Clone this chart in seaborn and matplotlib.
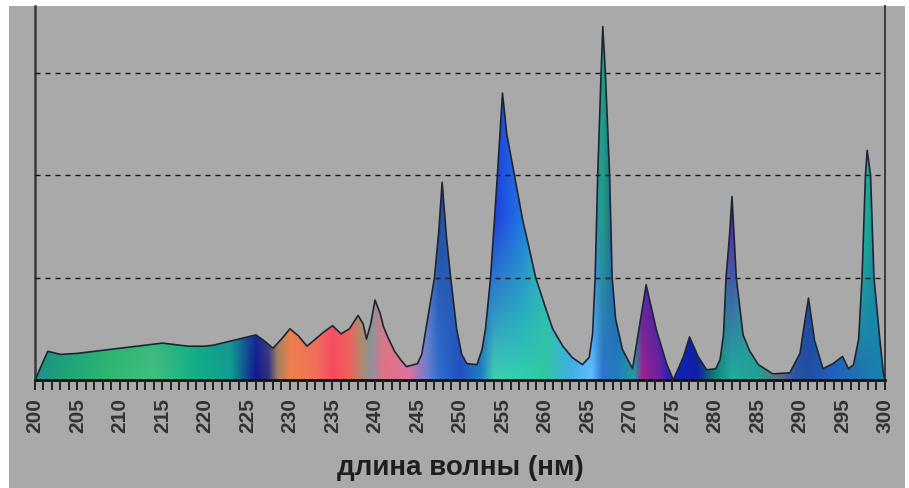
import matplotlib
matplotlib.use("Agg")
import matplotlib.pyplot as plt
import numpy as np
import pandas as pd
import seaborn as sns
from matplotlib.colors import to_rgb
from matplotlib.patches import Rectangle


# spectrum: wavelength (nm) and relative intensity
wavelength = [200, 201.5, 203, 205, 208, 210, 213, 215, 216, 218, 220, 221,
              223, 225, 226, 227, 228, 229, 230, 231, 232, 233, 234, 235,
              236, 237, 238, 238.6, 239, 239.5, 240, 240.6, 241, 241.5, 242.3,
              243, 243.7, 245, 245.5, 246.0, 246.5, 247.0, 247.5, 247.9, 248.4,
              248.9, 249.6, 250.2, 250.8, 252.0, 252.6, 253.0, 253.6, 254.4,
              255.0, 255.5, 256.4, 257.4, 258.1, 258.9, 260.0, 260.9, 262.1,
              263.2, 264.4, 265.2, 265.6, 265.9, 266.2, 266.6, 266.8, 267.1,
              267.6, 267.9, 268.3, 269.1, 270.3, 271.1, 271.9, 273.1, 274.3,
              275.1, 276.3, 277.0, 278.0, 279.0, 280.1, 280.6, 281.0, 281.3,
              281.7, 282.0, 282.5, 283.3, 284.1, 285.1, 286.8, 288.8, 290.0,
              290.6, 291.0, 291.7, 292.7, 293.9, 295.0, 295.7, 296.3, 296.9,
              297.3, 297.7, 297.9, 298.3, 298.7, 299.4, 299.8, 300]
intensity = [0.0, 0.28, 0.25, 0.26, 0.29, 0.31, 0.34, 0.36, 0.35, 0.33, 0.33, 0.34,
             0.38, 0.42, 0.44, 0.38, 0.31, 0.40, 0.50, 0.43, 0.33, 0.40, 0.47, 0.53,
             0.45, 0.50, 0.63, 0.55, 0.40, 0.55, 0.78, 0.65, 0.52, 0.42, 0.28,
             0.20, 0.13, 0.16, 0.25, 0.50, 0.75, 1.00, 1.45, 1.93, 1.40,
             1.00, 0.50, 0.25, 0.16, 0.15, 0.30, 0.50, 1.00, 2.00,
             2.80, 2.40, 2.00, 1.55, 1.30, 1.00, 0.72, 0.50, 0.33,
             0.22, 0.15, 0.22, 0.45, 1.00, 2.00, 3.00, 3.45, 3.00,
             2.00, 1.00, 0.60, 0.30, 0.11, 0.52, 0.93, 0.49, 0.16,
             0.0, 0.23, 0.42, 0.23, 0.10, 0.11, 0.20, 0.44, 1.00,
             1.40, 1.79, 1.00, 0.44, 0.28, 0.15, 0.06, 0.07, 0.26,
             0.59, 0.80, 0.39, 0.11, 0.16, 0.23, 0.11, 0.15, 0.40,
             1.00, 2.00, 2.24, 2.00, 1.00, 0.39, 0.07, 0.0]

x_ticks = list(range(200, 301, 5))
grid_levels = [1, 2, 3]
x_label = "длина волны (нм)"

# colour of the fill along the spectrum (bottom colour, top colour)
stop_wl = [200, 204, 209, 214, 219, 223, 226, 227.5, 228.5, 230, 233, 235, 237,
           238.5, 239.5, 241, 244, 246, 247.5, 250, 252.5, 254, 257, 260, 263,
           265.5, 266.8, 268.5, 270.5, 271.5, 273.5, 275, 278, 280, 282, 285,
           287.5, 289.5, 291, 294, 297, 299, 300]
stop_low = ["#1f8f8a", "#20a878", "#30b870", "#40c080", "#10b088", "#10a090",
            "#101890", "#303080", "#a08060", "#f08048", "#f07058", "#f84860",
            "#f06058", "#b08870", "#9090a0", "#e07080", "#e070a0", "#7080d0",
            "#3070d0", "#2050c0", "#2080c0", "#40d0b0", "#30d0b0", "#30c8a0",
            "#40b0e0", "#60c0ff", "#3070d0", "#2080c0", "#20a0a0", "#a02090",
            "#7020a0", "#1020c0", "#1020a0", "#108070", "#20b0a0", "#20a090",
            "#607080", "#3050a0", "#2050a0", "#2060c0", "#2070b0", "#1880b0",
            "#1880b0"]
stop_high = ["#1a7f8f", "#1a8a80", "#209a7a", "#28a070", "#1a9a80", "#2070a0",
             "#3050b0", "#707070", "#b08070", "#e07860", "#e87060", "#f06070",
             "#e07060", "#90a070", "#70a080", "#c09090", "#d080a0", "#6080c0",
             "#2050a0", "#3060b0", "#2060d0", "#2040e0", "#2070e0", "#30b0c0",
             "#40a0e0", "#3080e0", "#20a080", "#2050a0", "#305080", "#2030b0",
             "#1030a0", "#1020c0", "#1030b0", "#20a0a0", "#6020b0", "#30a0a0",
             "#707890", "#2060c0", "#2040a0", "#3070c0", "#20c090", "#1890a0",
             "#1890a0"]

BG = "#a9a9a9"
W, H = 909, 488

sns.set_theme(style="white")
plt.rcParams["font.family"] = ["Liberation Sans", "DejaVu Sans"]

fig = plt.figure(figsize=(W / 100, H / 100), dpi=100, facecolor="white")
fig.add_artist(Rectangle((9 / W, 0), (905 - 9) / W, (H - 6) / H,
                         transform=fig.transFigure, facecolor=BG,
                         edgecolor="none", zorder=-10))
ax = fig.add_axes([35 / W, (H - 380) / H, (885 - 35) / W, (380 - 6) / H])
ax.set_facecolor(BG)

df = pd.DataFrame({"wl": wavelength, "intensity": intensity})
ymax = 3.65

# invisible area, used to clip the colour gradient
area = ax.fill_between(df["wl"], 0, df["intensity"], facecolor="none",
                       edgecolor="none")

xs = np.linspace(200, 300, 1200)
low = np.stack([np.interp(xs, stop_wl, [to_rgb(c)[i] for c in stop_low])
                for i in range(3)], axis=-1)
high = np.stack([np.interp(xs, stop_wl, [to_rgb(c)[i] for c in stop_high])
                 for i in range(3)], axis=-1)
ys = np.linspace(0, ymax, 400)
t = np.clip(ys / 1.6, 0, 1)[:, None, None]
img = low[None, :, :] * (1 - t) + high[None, :, :] * t
im = ax.imshow(img, extent=[200, 300, 0, ymax], origin="lower", aspect="auto",
               interpolation="bilinear", zorder=1)
im.set_clip_path(area.get_paths()[0], transform=ax.transData)

sns.lineplot(data=df, x="wl", y="intensity", color="#1c2633", linewidth=1.2,
             ax=ax, zorder=3, sort=False)

ax.set_xlim(200, 300)
ax.set_ylim(0, ymax)
ax.set_yticks(grid_levels)
ax.yaxis.grid(True, linestyle=(0, (3.6, 3.6)), color="#151515", linewidth=1.0)
ax.set_axisbelow(False)
ax.tick_params(axis="y", length=0, labelleft=False)

ax.set_xticks(x_ticks)
ax.set_xticks(range(200, 301), minor=True)
ax.set_xticklabels([str(v) for v in x_ticks], rotation=90, fontsize=15,
                   fontweight="bold", color="#333333")
ax.tick_params(axis="x", which="both", direction="out", length=7, width=1.4,
               color="#222222", bottom=True, pad=6)

ax.spines["top"].set_visible(False)
ax.spines["left"].set_color("#3a3a3a")
ax.spines["left"].set_linewidth(1.8)
ax.spines["right"].set_color("#3a3a3a")
ax.spines["right"].set_linewidth(1.4)
ax.spines["bottom"].set_color("#111111")
ax.spines["bottom"].set_linewidth(2.0)

ax.set_xlabel(x_label, fontsize=20, fontweight="bold", color="#1e1e1e")
ax.set_ylabel("")
ax.xaxis.set_label_coords(0.5, -0.2)

fig.savefig("out.png", dpi=100, facecolor=fig.get_facecolor())
